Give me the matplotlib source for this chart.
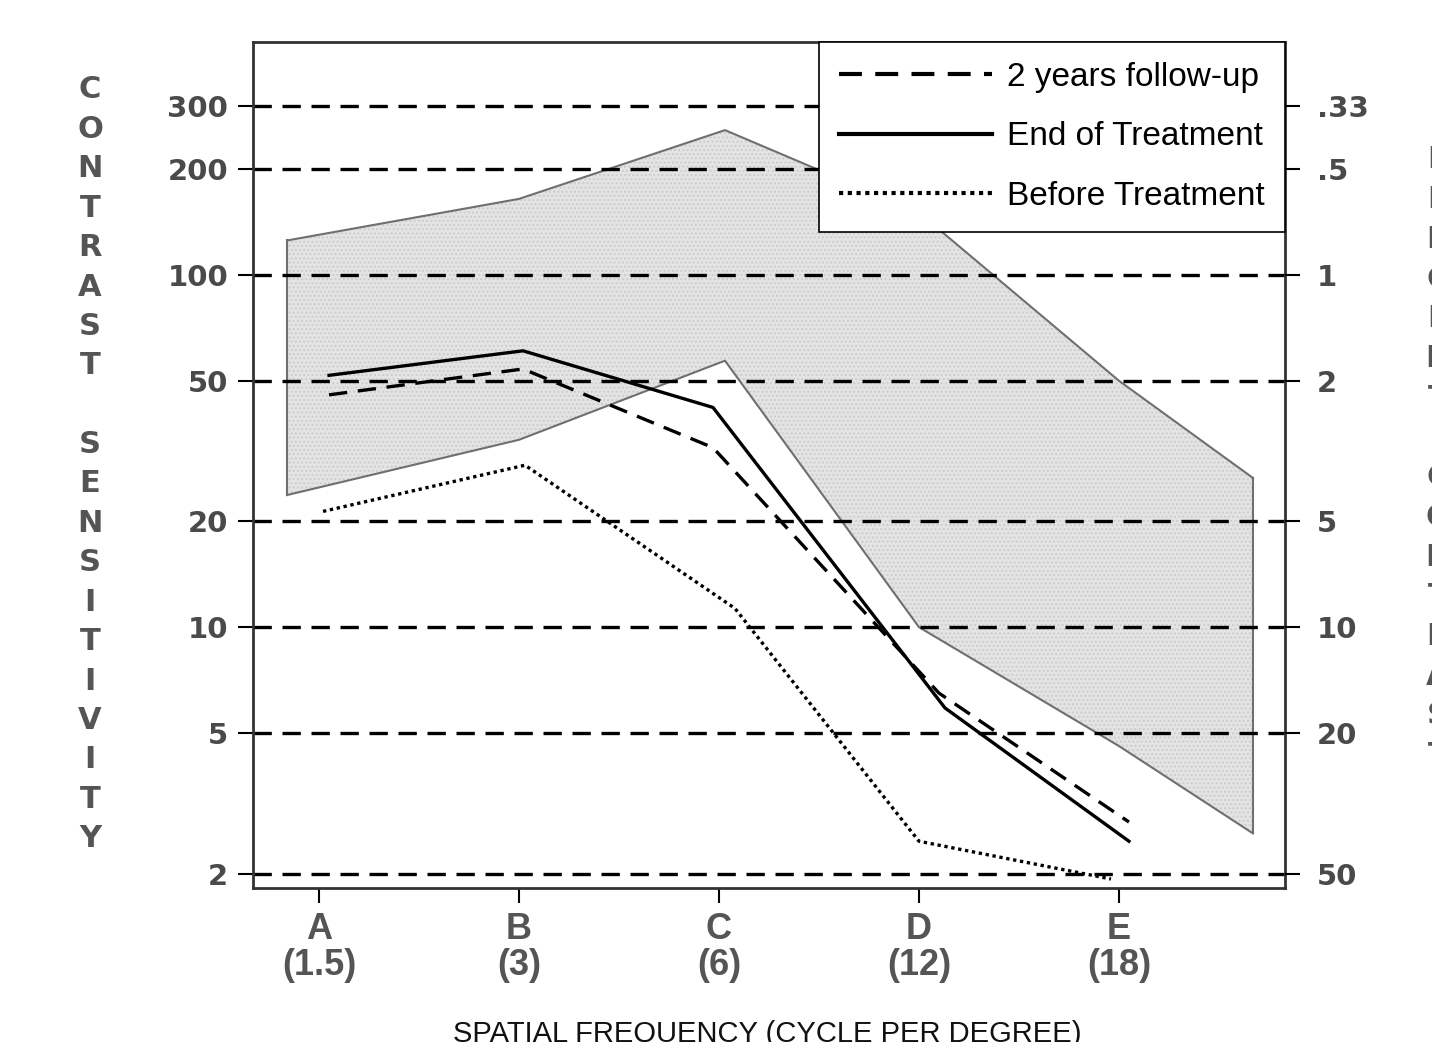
import matplotlib.pyplot as plt
import numpy as np

# Valores (eje y logaritmico)
freq_labels = ["A\n(1.5)", "B\n(3)", "C\n(6)", "D\n(12)", "E\n(18)"]
freq_pos = [0, 1, 2, 3, 4]

# Banda normal (gris)
band_x = [-0.16, 1.0, 2.03, 3.0, 4.0, 4.67]
band_upper = [125, 164, 257, 150, 50, 26.5]
band_lower = [23.7, 34, 57, 10, 4.6, 2.6]

# Curvas
followup_x = [0.05, 1.02, 1.97, 3.1, 4.05]
followup = [45.6, 54, 32.3, 6.5, 2.8]
end_x = [0.05, 1.02, 1.97, 3.13, 4.05]
end_treat = [51.8, 60.8, 42, 5.9, 2.47]
before_x = [0.02, 1.03, 2.08, 3.0, 3.96]
before = [21.3, 28.8, 11.3, 2.47, 1.93]

# Ticks
sens_ticks = [2, 5, 10, 20, 50, 100, 200, 300]
sens_labels = ["2", "5", "10", "20", "50", "100", "200", "300"]
percent_labels = ["50", "20", "10", "5", "2", "1", ".5", ".33"]

txt_gray = "#4a4a4a"

fig = plt.figure(figsize=(14.32, 10.42), dpi=100)
ax = fig.add_axes([0.1767, 0.1478, 0.7206, 0.8119])
ax.set_yscale("log")
ax.set_xlim(-0.33, 4.83)
ax.set_ylim(1.82, 457)

# banda
ax.fill_between(band_x, band_lower, band_upper, facecolor="#e4e4e4",
                edgecolor="#cccccc", hatch="....", linewidth=0, zorder=1)
ax.plot(band_x, band_upper, color="#6f6f6f", lw=1.5, zorder=1.5)
ax.plot(band_x, band_lower, color="#6f6f6f", lw=1.5, zorder=1.5)
ax.plot([band_x[0], band_x[0]], [band_lower[0], band_upper[0]], color="#6f6f6f", lw=1.5, zorder=1.5)
ax.plot([band_x[-1], band_x[-1]], [band_lower[-1], band_upper[-1]], color="#6f6f6f", lw=1.5, zorder=1.5)

# lineas horizontales punteadas
for v in sens_ticks:
    ax.axhline(v, color="black", lw=2.4, linestyle=(0, (5.5, 3.2)), zorder=2)

ax.plot(followup_x, followup, color="black", lw=2.4, linestyle=(0, (5.5, 3.2)),
        label="2 years follow-up", zorder=3)
ax.plot(end_x, end_treat, color="black", lw=2.4, linestyle="-",
        label="End of Treatment", zorder=3)
ax.plot(before_x, before, color="black", lw=2.4, linestyle=(0, (1, 1.1)),
        label="Before Treatment", zorder=3)

ax.minorticks_off()
ax.set_yticks(sens_ticks)
ax.set_yticklabels(sens_labels)
ax.set_xticks(freq_pos)
ax.set_xticklabels(freq_labels, family=["Liberation Sans", "DejaVu Sans"],
                   fontweight="bold", fontsize=26, color="#555555", linespacing=1.05)
ax.tick_params(axis="y", length=11, width=1.5, pad=7, labelsize=21, labelcolor=txt_gray)
ax.tick_params(axis="x", length=11, width=1.5, pad=6)
for lab in ax.get_yticklabels():
    lab.set_fontweight("bold")

for s in ax.spines.values():
    s.set_linewidth(2)
    s.set_color("#333333")

ax2 = ax.twinx()
ax2.set_yscale("log")
ax2.set_ylim(ax.get_ylim())
ax2.minorticks_off()
ax2.set_yticks(sens_ticks)
ax2.set_yticklabels(percent_labels)
ax2.tick_params(axis="y", length=11, width=1.5, pad=12, labelsize=21, labelcolor=txt_gray)
for lab in ax2.get_yticklabels():
    lab.set_fontweight("bold")
for s in ax2.spines.values():
    s.set_visible(False)

leg = ax.legend(loc="upper right", bbox_to_anchor=(1.0, 1.0), borderaxespad=0,
                prop={"family": "Liberation Sans", "size": 24},
                handlelength=4.6, handletextpad=0.45, borderpad=0.6,
                labelspacing=0.85, fancybox=False, framealpha=1)
leg.get_frame().set_edgecolor("black")
leg.get_frame().set_linewidth(1.2)
leg.set_zorder(10)
for h in leg.get_lines():
    h.set_linewidth(3)

# titulo del eje x (cortado abajo)
fig.text(0.536, 0.021, "SPATIAL FREQUENCY (CYCLE PER DEGREE)", ha="center", va="top",
         family="Liberation Sans", fontsize=21, color="#111111")

# letras verticales a la izquierda
left_word = "CONTRAST SENSITIVITY"
for i, ch in enumerate(left_word):
    y_px = 90 + i * 39.4
    fig.text(90 / 1432, 1 - y_px / 1042, ch, ha="center", va="center",
             fontsize=22, fontweight="bold", color="#555555")

# letras verticales a la derecha (cortadas)
right_word = "PERCENT CONTRAST"
for i, ch in enumerate(right_word):
    y_px = 160 + i * 39.7
    fig.text(1438 / 1432, 1 - y_px / 1042, ch, ha="center", va="center",
             fontsize=22, fontweight="bold", color="#555555")

plt.savefig("out.png", dpi=100)
